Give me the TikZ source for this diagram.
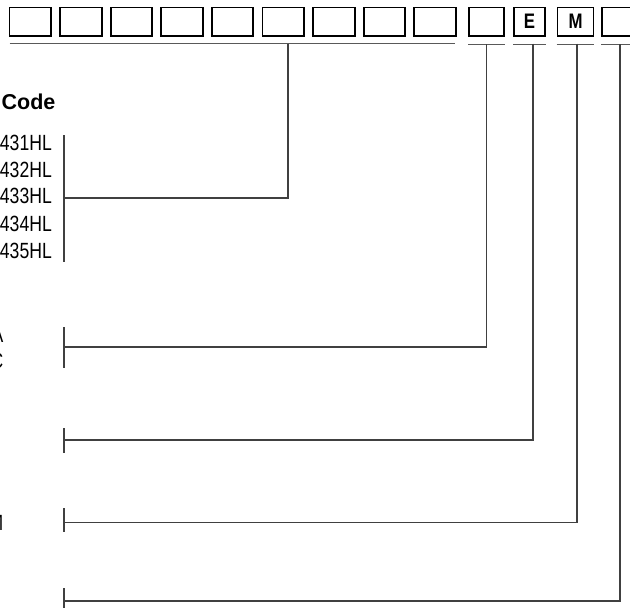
\documentclass[tikz,border=0pt]{standalone}
\usepackage{fontspec}
\setmainfont{Liberation Sans}[FakeStretch=0.8]
\newfontfamily\headfont{Liberation Sans}
\usetikzlibrary{positioning}
\tikzset{>=stealth}

\begin{document}
\begin{tikzpicture}[x=1pt,y=-1pt,
    cbox/.style={draw,line width=1.9pt,inner sep=0pt,minimum height=28.5pt,
      font=\bfseries\fontsize{21}{21}\selectfont},
    bar/.style={draw=black!65,line width=1.3pt},
    lead/.style={draw=black!75,line width=1.2pt},
    lbl/.style={anchor=east,inner sep=0pt,font=\fontsize{22}{22}\selectfont}]

  \useasboundingbox (0,0) rectangle (630,608);
  \clip (0,0) rectangle (630,608);

  % code boxes
  \foreach \i in {1,...,9}
    \node[cbox,minimum width=41.5pt] (b\i) at ({30.25+50.6*(\i-1)},21.75) {};
  \node[cbox,minimum width=35pt] (b10) at (486.5,21.75) {};
  \node[cbox,minimum width=31pt] (bE) at (529.5,21.75) {E};
  \node[cbox,minimum width=36pt] (bM) at (575.5,21.75) {M};
  \node[cbox,minimum width=36pt] (b13) at (620,21.75) {};

  % bars under the boxes
  \coordinate (g1) at (9.5,43.5);
  \coordinate (g2) at (455,43.5);
  \draw[bar] (g1) -- (g2);
  \foreach \b in {b10,bE,bM,b13}
    \draw[bar] ([yshift=-7.5pt]\b.south west) -- ([yshift=-7.5pt]\b.south east);

  \coordinate (tg) at (288,43.5);
  \coordinate (t10) at ([yshift=-7.5pt]b10.south);
  \coordinate (tE) at (533,43.5);
  \coordinate (tM) at (577,43.5);
  \coordinate (t13) at ([yshift=-7.5pt]b13.south);

  % labels on the left
  \node[anchor=west,inner sep=0pt,font=\headfont\bfseries\fontsize{21.5}{21.5}\selectfont]
    (code) at (1.5,102) {Code};
  \node[lbl] (c431) at (52,142.5) {431HL};
  \node[lbl] (c432) at (52,169.5) {432HL};
  \node[lbl] (c433) at (52,196) {433HL};
  \node[lbl] (c434) at (52,223.5) {434HL};
  \node[lbl] (c435) at (52,251) {435HL};
  \node[lbl] (fa) at (3.5,335) {A};
  \node[lbl] (fc) at (3.5,361) {C};
  \node[lbl] (fm) at (3.5,523) {M};

  % brackets
  \coordinate (kg) at (64,198);
  \coordinate (k10) at (64,347);
  \coordinate (kE) at (64,440);
  \coordinate (kM) at (64,522.5);
  \coordinate (k13) at (64,601);
  \draw[lead] (64,135) -- (64,262);
  \draw[lead] (64,327) -- (64,368);
  \draw[lead] (64,428) -- (64,453);
  \draw[lead] (64,508) -- (64,532);
  \draw[lead] (64,588) -- (64,610);

  % leaders from the boxes
  \draw[lead] (tg) |- (kg);
  \draw[lead] (t10) |- (k10);
  \draw[lead] (tE) |- (kE);
  \draw[lead] (tM) |- (kM);
  \draw[lead] (t13) |- (k13);

\end{tikzpicture}
\end{document}
